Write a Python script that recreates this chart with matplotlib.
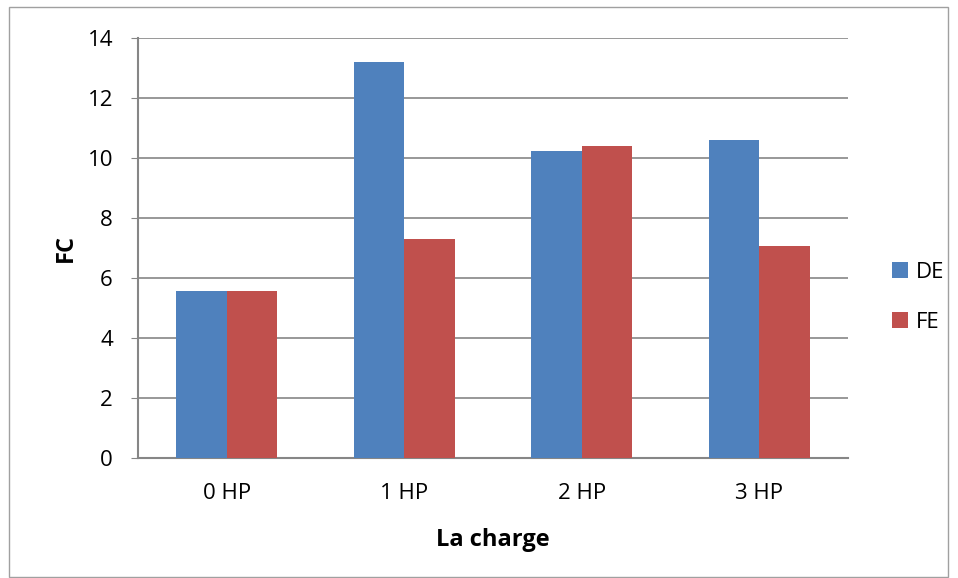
import numpy as np
import matplotlib.pyplot as plt
from matplotlib.patches import Rectangle

# data
categories = ['0 HP', '1 HP', '2 HP', '3 HP']
de_values = [5.57, 13.2, 10.23, 10.59]
fe_values = [5.57, 7.3, 10.4, 7.07]

blue = '#4f81bd'
red = '#c0504d'
grid_col = '#868686'

plt.rcParams['font.family'] = ['Open Sans', 'DejaVu Sans']

fig = plt.figure(figsize=(9.58, 5.78), dpi=100)
ax = fig.add_axes([0.144, 0.2076, 0.741, 0.7264])

# outer chart border
fig.patches.append(Rectangle((9 / 958, 1 - 577 / 578), 939 / 958, 570 / 578,
                             transform=fig.transFigure, fill=False,
                             edgecolor='#a0a0a0', linewidth=1))

x = np.arange(len(categories))
w = 0.285
ax.bar(x - w / 2, de_values, w, color=blue, label='DE', zorder=3)
ax.bar(x + w / 2, fe_values, w, color=red, label='FE', zorder=3)

ax.set_xlim(-0.5, 3.5)
ax.set_ylim(0, 14)
ax.set_yticks(range(0, 15, 2))
ax.set_xticks(x)
ax.set_xticklabels(categories)
ax.yaxis.grid(True, color=grid_col, linewidth=1.2, zorder=0)
ax.set_axisbelow(True)

for s in ['top', 'right']:
    ax.spines[s].set_visible(False)
for s in ['left', 'bottom']:
    ax.spines[s].set_color(grid_col)
    ax.spines[s].set_linewidth(1.5)
ax.tick_params(axis='y', length=5, color=grid_col, labelsize=16, pad=13)
ax.tick_params(axis='x', length=0, labelsize=16, pad=18)

ax.set_xlabel('La charge', fontsize=17, fontweight='bold', labelpad=17)
ax.set_ylabel('FC', fontsize=17, fontweight='bold', labelpad=7)

ax.legend(loc='center left', bbox_to_anchor=(1.0, 0.383), frameon=False,
          fontsize=16, handlelength=0.7, handleheight=0.7, labelspacing=1.3,
          handletextpad=0.35, borderaxespad=1.6)

fig.savefig('out.png', dpi=100)
